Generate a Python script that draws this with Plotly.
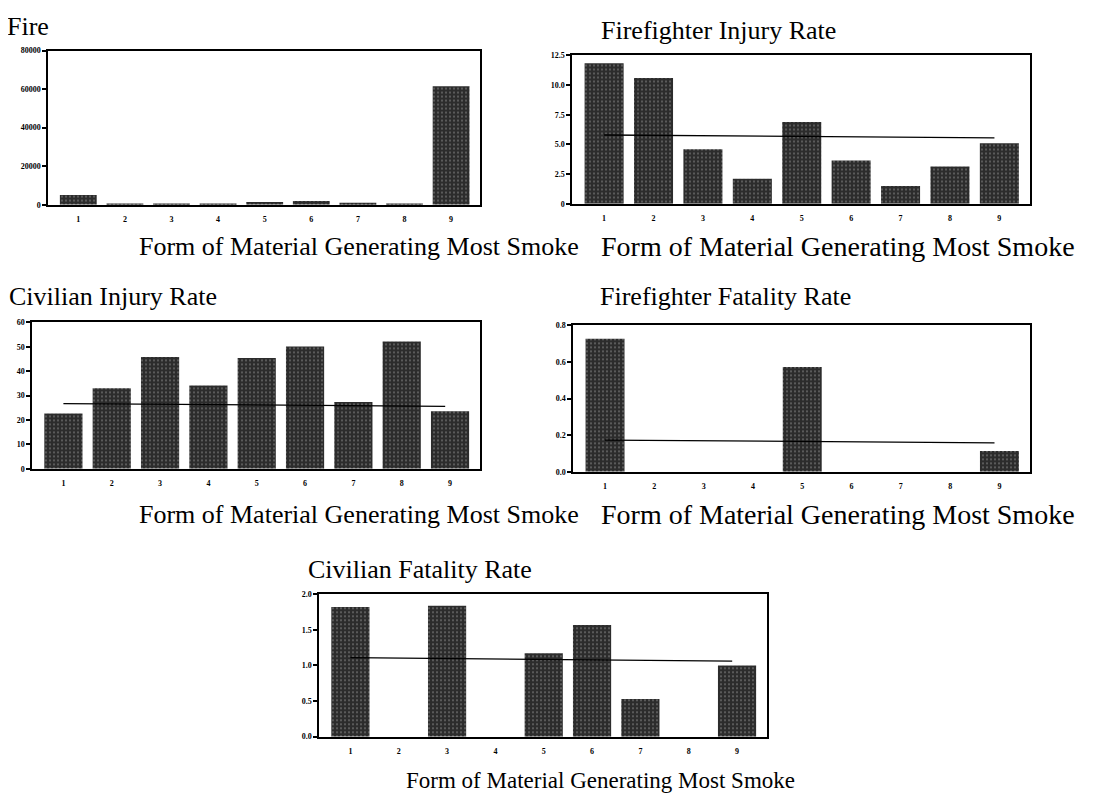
import plotly.graph_objects as go

# the page body keeps its default 8px margin, so the figure is sized to fit inside it
PAGE_W, PAGE_H = 1093, 804
OFF = 8
W, H = PAGE_W - 2 * OFF, PAGE_H - 2 * OFF

# form of material generating most smoke (category codes)
categories = [1, 2, 3, 4, 5, 6, 7, 8, 9]

fire_counts = [5100, 300, 300, 300, 1400, 1900, 1000, 200, 61500]
ff_injury_rate = [11.85, 10.6, 4.6, 2.1, 6.9, 3.65, 1.5, 3.15, 5.1]
civ_injury_rate = [22.6, 33.0, 45.8, 34.1, 45.4, 50.1, 27.4, 52.2, 23.6]
ff_fatality_rate = [0.727, 0, 0, 0, 0.573, 0, 0, 0, 0.113]
civ_fatality_rate = [1.82, 0, 1.84, 0, 1.17, 1.57, 0.53, 0, 1.0]

# overall average lines (start / end)
avg_x = [1, 8.9]
ff_injury_avg = [5.8, 5.55]
civ_injury_avg = [26.7, 25.6]
ff_fatality_avg = [0.173, 0.158]
civ_fatality_avg = [1.11, 1.06]

fire_ticks = [0, 20000, 40000, 60000, 80000]
ff_injury_ticks = [0, 2.5, 5.0, 7.5, 10.0, 12.5]
ff_injury_ticktext = ['0', '2.5', '5.0', '7.5', '10.0', '12.5']
civ_injury_ticks = [0, 10, 20, 30, 40, 50, 60]
ff_fatality_ticks = [0, 0.2, 0.4, 0.6, 0.8]
ff_fatality_ticktext = ['0.0', '0.2', '0.4', '0.6', '0.8']
civ_fatality_ticks = [0, 0.5, 1.0, 1.5, 2.0]
civ_fatality_ticktext = ['0.0', '0.5', '1.0', '1.5', '2.0']

x_title = 'Form of Material Generating Most Smoke'


# page pixels -> paper coordinates
def px(p):
    return (p - OFF) / W


def py(p):
    return 1 - (p - OFF) / H


# box = (left, top, right, bottom) in page pixels
panels = [
    dict(title='Fire', values=fire_counts, avg=None,
         ticks=fire_ticks, ticktext=[str(t) for t in fire_ticks],
         box=(48, 47, 480, 203), title_xy=(5, 23),
         xt_xy=(359, 245), xt_size=26),
    dict(title='Firefighter Injury Rate', values=ff_injury_rate, avg=ff_injury_avg,
         ticks=ff_injury_ticks, ticktext=ff_injury_ticktext,
         box=(572, 52, 1030, 202), title_xy=(599, 27),
         xt_xy=(838, 245), xt_size=28),
    dict(title='Civilian Injury Rate', values=civ_injury_rate, avg=civ_injury_avg,
         ticks=civ_injury_ticks, ticktext=[str(t) for t in civ_injury_ticks],
         box=(32, 322, 480, 470), title_xy=(7, 296),
         xt_xy=(359, 516), xt_size=26),
    dict(title='Firefighter Fatality Rate', values=ff_fatality_rate, avg=ff_fatality_avg,
         ticks=ff_fatality_ticks, ticktext=ff_fatality_ticktext,
         box=(573, 325, 1030, 473), title_xy=(598, 296),
         xt_xy=(838, 516), xt_size=28),
    dict(title='Civilian Fatality Rate', values=civ_fatality_rate, avg=civ_fatality_avg,
         ticks=civ_fatality_ticks, ticktext=civ_fatality_ticktext,
         box=(319, 597, 767, 741), title_xy=(306, 572),
         xt_xy=(600, 785), xt_size=23),
]

tick_font = dict(family='Liberation Sans Narrow', size=8, color='black', weight='bold')
text_font = 'Liberation Serif'

fig = go.Figure()
layout = {}
annotations = []

for i, p in enumerate(panels, start=1):
    sfx = '' if i == 1 else str(i)
    left, top, right, bottom = p['box']

    fig.add_trace(go.Bar(
        x=categories, y=p['values'], width=0.79,
        xaxis='x' + sfx, yaxis='y' + sfx,
        marker=dict(color='#2c2c2c', line=dict(width=0),
                    pattern=dict(shape='.', fgcolor='#a8a8a8', size=4,
                                 solidity=0.2, fillmode='overlay')),
        hoverinfo='x+y'
    ))
    if p['avg'] is not None:
        fig.add_trace(go.Scatter(
            x=avg_x, y=p['avg'], mode='lines',
            line=dict(color='black', width=1.3),
            xaxis='x' + sfx, yaxis='y' + sfx, hoverinfo='skip'
        ))

    layout['xaxis' + sfx] = dict(
        domain=[px(left), px(right)], anchor='y' + sfx,
        range=[0.35, 9.62], tickvals=categories,
        ticktext=[str(c) for c in categories], ticks='',
        ticklabelstandoff=6, tickfont=tick_font,
        showline=True, mirror=True, linecolor='black', linewidth=1.5,
        showgrid=False, zeroline=False, fixedrange=True)
    layout['yaxis' + sfx] = dict(
        domain=[py(bottom), py(top)], anchor='x' + sfx,
        range=[p['ticks'][0], p['ticks'][-1]],
        tickvals=p['ticks'], ticktext=p['ticktext'],
        ticks='outside', ticklen=4, tickwidth=1.5, tickcolor='black',
        tickfont=tick_font,
        showline=True, mirror=True, linecolor='black', linewidth=1.5,
        showgrid=False, zeroline=False, fixedrange=True)

    tx, ty = p['title_xy']
    annotations.append(dict(
        text=p['title'], x=px(tx), y=py(ty), xref='paper', yref='paper',
        xanchor='left', yanchor='middle', showarrow=False,
        font=dict(family=text_font, size=26, color='black')))
    xx, xy = p['xt_xy']
    annotations.append(dict(
        text=x_title, x=px(xx), y=py(xy), xref='paper', yref='paper',
        xanchor='center', yanchor='middle', showarrow=False,
        font=dict(family=text_font, size=p['xt_size'], color='black')))

fig.update_layout(
    **layout,
    annotations=annotations,
    width=W, height=H,
    margin=dict(l=0, r=0, t=0, b=0),
    bargap=0.21,
    showlegend=False,
    paper_bgcolor='white',
    plot_bgcolor='white'
)

fig.write_html('out.html')
